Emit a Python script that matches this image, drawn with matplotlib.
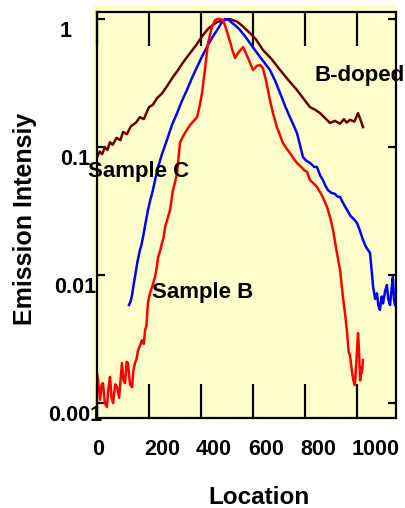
import matplotlib
matplotlib.use("Agg")
import matplotlib.pyplot as plt
from matplotlib.ticker import FixedLocator, NullLocator, FixedFormatter
from matplotlib.transforms import ScaledTranslation
from matplotlib.patches import Rectangle

# ---------------- data ----------------
bdoped_x = [0, 10, 20, 30, 40, 50, 60, 75, 90, 100, 115, 130, 150, 165, 180, 200, 215, 231,
            250, 270, 292, 310, 330, 358, 380, 408, 430, 462, 490, 512, 540, 560, 588, 610,
            638, 670, 704, 735, 769, 790, 819, 840, 858, 875, 896, 915, 935, 950, 960, 973,
            990, 1004, 1015, 1023]
bdoped_y = [0.083, 0.092, 0.088, 0.100, 0.095, 0.109, 0.104, 0.118, 0.113, 0.131, 0.126, 0.145,
            0.155, 0.171, 0.165, 0.205, 0.214, 0.241, 0.262, 0.300, 0.352, 0.395, 0.455, 0.542,
            0.62, 0.75, 0.85, 0.947, 0.98, 1.0, 0.95, 0.88, 0.777, 0.70, 0.573, 0.49, 0.40,
            0.335, 0.279, 0.245, 0.205, 0.195, 0.184, 0.17, 0.154, 0.16, 0.152, 0.165, 0.155,
            0.163, 0.158, 0.184, 0.16, 0.143]

sampleC_x = [123, 129, 135, 140, 146, 155, 165, 171, 177, 186, 196, 205, 215, 225, 235, 250,
             269, 288, 308, 327, 346, 365, 385, 404, 423, 442, 462, 477, 492, 505, 520, 535,
             550, 570, 588, 608, 627, 646, 665, 685, 704, 723, 742, 756, 769, 780, 792, 805,
             820, 835, 846, 858, 869, 878, 888, 900, 915, 925, 935, 948, 962, 975, 990, 1000,
             1012, 1023, 1035, 1050, 1056, 1062, 1070, 1077, 1082, 1088, 1095, 1100, 1108,
             1115, 1120, 1127, 1133, 1138, 1142, 1146]
sampleC_y = [0.00583, 0.0062, 0.00698, 0.0082, 0.00965, 0.0125, 0.01567, 0.0172, 0.0198, 0.025,
             0.0322, 0.0385, 0.0461, 0.057, 0.0698, 0.088, 0.1135, 0.148, 0.1844, 0.23, 0.279,
             0.345, 0.422, 0.51, 0.604, 0.71, 0.82, 0.92, 1.0, 0.99, 0.93, 0.88, 0.82, 0.73,
             0.649, 0.57, 0.505, 0.45, 0.40, 0.33, 0.264, 0.21, 0.171, 0.148, 0.1286, 0.105,
             0.0835, 0.078, 0.075, 0.07, 0.0698, 0.06, 0.0552, 0.05, 0.0461, 0.044, 0.043,
             0.041, 0.0407, 0.036, 0.0322, 0.029, 0.027, 0.0255, 0.022, 0.0188, 0.0165, 0.0149,
             0.011, 0.00806, 0.0065, 0.0072, 0.0058, 0.00533, 0.0068, 0.006, 0.0075, 0.00835,
             0.0065, 0.00583, 0.0078, 0.00965, 0.0065, 0.00583]

sampleB_x = [0, 4, 12, 18, 23, 30, 38, 44, 50, 56, 62, 70, 77, 85, 96, 102, 108, 114, 119, 127,
             135, 140, 146, 152, 158, 165, 173, 180, 185, 190, 196, 204, 213, 223, 230, 235, 243,
             250, 256, 262, 270, 281, 292, 300, 308, 319, 328, 338, 348, 358, 372, 385, 395,
             404, 415, 427, 442, 454, 465, 473, 485, 498, 512, 522, 531, 545, 562, 580, 600,
             615, 627, 638, 650, 665, 678, 692, 703, 715, 728, 742, 755, 769, 785, 797, 808,
             819, 833, 846, 865, 885, 897, 908, 920, 935, 946, 955, 962, 968, 973, 980, 986,
             992, 998, 1004, 1008, 1012, 1016, 1019, 1023]
sampleB_y = [0.0017, 0.0015, 0.00106, 0.0014, 0.00143, 0.001, 0.00093, 0.0013, 0.0016, 0.0011,
             0.001, 0.0014, 0.00133, 0.0011, 0.00205, 0.0015, 0.00143, 0.0021, 0.00205, 0.0014,
             0.00133, 0.0018, 0.00205, 0.0022, 0.00259, 0.0028, 0.0031, 0.0029, 0.00372, 0.0040,
             0.00604, 0.00723, 0.0082, 0.00965, 0.0115, 0.0138, 0.0155, 0.0178, 0.0195, 0.0237,
             0.027, 0.0322, 0.0461, 0.053, 0.0626, 0.1075, 0.118, 0.1286, 0.138, 0.1485, 0.16,
             0.1715, 0.21, 0.264, 0.40, 0.649, 0.866, 0.98, 1.0, 1.0, 0.98, 0.82, 0.661, 0.56,
             0.496, 0.55, 0.604, 0.50, 0.40, 0.43, 0.437, 0.414, 0.33, 0.233, 0.18, 0.143, 0.125,
             0.1075, 0.098, 0.0898, 0.082, 0.075, 0.07, 0.066, 0.0638, 0.0552, 0.052, 0.0487,
             0.042, 0.034, 0.028, 0.0225, 0.016, 0.0109, 0.00673, 0.0048, 0.00352, 0.0025,
             0.00237, 0.0018, 0.0015, 0.00138, 0.0022, 0.00352, 0.0025, 0.0015, 0.0019, 0.00172,
             0.00217]

x_ticks = [0, 200, 400, 600, 800, 1000]
x_tick_labels = ["0", "200", "400", "600", "800", "1000"]
y_ticks = [0.001, 0.01, 0.1, 1]
y_tick_labels = ["0.001", "0.01", "0.1", "1"]

# ---------------- styling ----------------
YELLOW = "#FFFFCC"
FONT = "Liberation Sans"
DPI = 100

fig = plt.figure(figsize=(4.05, 5.08), dpi=DPI)
W, H = 405, 508
# yellow background panel behind axes (extends a bit left/top of the frame)
fig.patches.append(Rectangle((93 / W, 1 - 418 / H), (397 - 93) / W, (418 - 5) / H,
                             transform=fig.transFigure, facecolor=YELLOW,
                             edgecolor="none", zorder=-1))

ax = fig.add_axes([97 / W, 1 - 418 / H, (396 - 97) / W, (418 - 12) / H])
ax.set_facecolor(YELLOW)

ax.plot(bdoped_x, bdoped_y, color="#6b0000", lw=1.8)
ax.plot(sampleC_x, sampleC_y, color="#0000ff", lw=1.8)
ax.plot(sampleB_x, sampleB_y, color="#ff0000", lw=1.8)

ax.set_yscale("log")
ax.set_xlim(0, 1150)
ax.set_ylim(0.000764, 1.134)

for s in ax.spines.values():
    s.set_linewidth(1.6)
    s.set_color("black")

ax.xaxis.set_major_locator(FixedLocator(x_ticks))
ax.xaxis.set_major_formatter(FixedFormatter(x_tick_labels))
ax.yaxis.set_major_locator(FixedLocator(y_ticks))
ax.yaxis.set_major_formatter(FixedFormatter(y_tick_labels))
ax.yaxis.set_minor_locator(NullLocator())
ax.xaxis.set_minor_locator(NullLocator())

ax.tick_params(axis="x", which="major", direction="in", length=24.5, width=1.6,
               top=True, bottom=True, pad=15, labelsize=15.5)
ax.tick_params(axis="y", which="major", direction="in", length=6, width=1.6,
               left=True, right=True, pad=16, labelsize=15.5)

for lbl in ax.get_xticklabels() + ax.get_yticklabels():
    lbl.set_fontfamily(FONT)
    lbl.set_fontweight("bold")

ax.set_xlabel("Location", fontsize=17.5, fontweight="bold", fontfamily=FONT)
ax.xaxis.set_label_coords((259 - 97) / (396 - 97), -(497 - 418) / (418 - 12))
ax.xaxis.label.set_va("center")
ax.set_ylabel("Emission Intensiy", fontsize=18, fontweight="bold", fontfamily=FONT)
ax.yaxis.set_label_coords(-(97 - 25) / (396 - 97), (418 - 219) / (418 - 12))
ax.yaxis.label.set_va("center")

ax.text(838, 0.365, "B-doped", fontsize=16, fontweight="bold", fontfamily=FONT,
        ha="left", va="center", clip_on=False)
ax.text(-35, 0.0638, "Sample C", fontsize=16, fontweight="bold", fontfamily=FONT,
        ha="left", va="center", clip_on=False)
ax.text(212, 0.00724, "Sample B", fontsize=16, fontweight="bold", fontfamily=FONT,
        ha="left", va="center", clip_on=False)

fig.canvas.draw()
# fine position tweaks of tick labels (in pixels)
for lbl in ax.get_xticklabels():
    lbl.set_ha("left")
    lbl.set_transform(lbl.get_transform() + ScaledTranslation(-5 / DPI, 0, fig.dpi_scale_trans))
y_dx = {"0.001": 0, "0.01": 0, "0.1": 0, "1": -9}
for lbl in ax.get_yticklabels():
    lbl.set_ha("center")
    dx = y_dx.get(lbl.get_text(), 0)
    lbl.set_transform(lbl.get_transform() + ScaledTranslation(dx / DPI, -10 / DPI, fig.dpi_scale_trans))

fig.savefig("out.png", dpi=DPI)
